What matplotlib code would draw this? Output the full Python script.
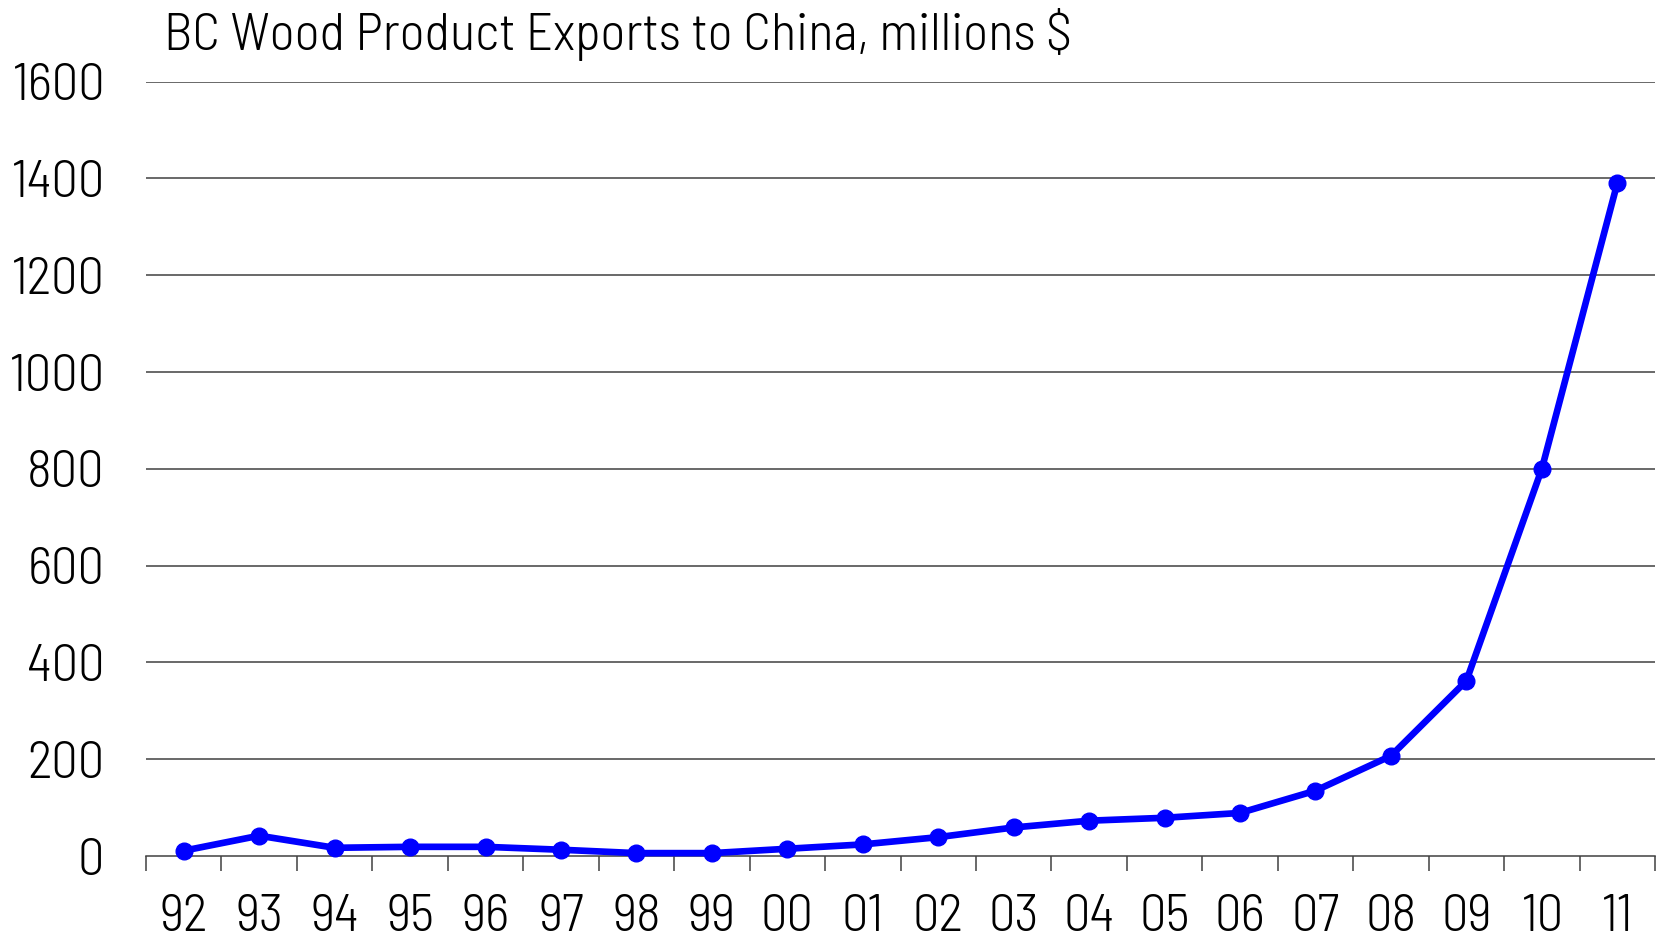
import matplotlib.pyplot as plt
from matplotlib.ticker import FixedLocator

plt.rcParams["font.family"] = ["Barlow Semi Condensed", "DejaVu Sans"]
plt.rcParams["font.stretch"] = "condensed"
plt.rcParams["font.weight"] = 300

# BC wood product exports to China, millions of dollars
years = ["92", "93", "94", "95", "96", "97", "98", "99", "00", "01",
         "02", "03", "04", "05", "06", "07", "08", "09", "10", "11"]
exports = [11, 42, 17, 19, 19, 13, 6, 6, 15, 24,
           39, 59, 73, 79, 89, 135, 207, 362, 800, 1390]
y_ticks = [0, 200, 400, 600, 800, 1000, 1200, 1400, 1600]

fig = plt.figure(figsize=(16.61, 9.41), dpi=100)
ax = fig.add_axes([0.0879, 0.0903, 0.9085, 0.8230])

x = list(range(len(years)))

# horizontal grid
for v in y_ticks[1:]:
    ax.axhline(v, color="#404040", linewidth=1.1, zorder=1)

ax.plot(
    x,
    exports,
    color="#0000ff",
    linewidth=4.8,
    marker="o",
    markersize=12,
    zorder=3,
    clip_on=False
)

ax.set_xlim(-0.5, len(years) - 0.5)
ax.set_ylim(0, 1600)

ax.set_yticks(y_ticks)
ax.set_yticklabels([str(v) for v in y_ticks], fontsize=38)
ax.tick_params(axis="y", length=0, pad=30)

ax.set_xticks(x)
ax.set_xticklabels(years, fontsize=38)
ax.tick_params(axis="x", which="major", length=0, pad=27)
ax.xaxis.set_minor_locator(
    FixedLocator([i - 0.5 for i in range(len(years) + 1)])
)
ax.tick_params(axis="x", which="minor", length=11, width=1.1,
               color="#404040", direction="out")

for side in ["top", "right", "left"]:
    ax.spines[side].set_visible(False)
ax.spines["bottom"].set_color("#404040")
ax.spines["bottom"].set_linewidth(1.1)

fig.text(
    0.0987, 0.947,
    "BC Wood Product Exports to China, millions $",
    fontsize=38,
    va="baseline",
    ha="left"
)

plt.savefig("out.png", dpi=100)
plt.close()
